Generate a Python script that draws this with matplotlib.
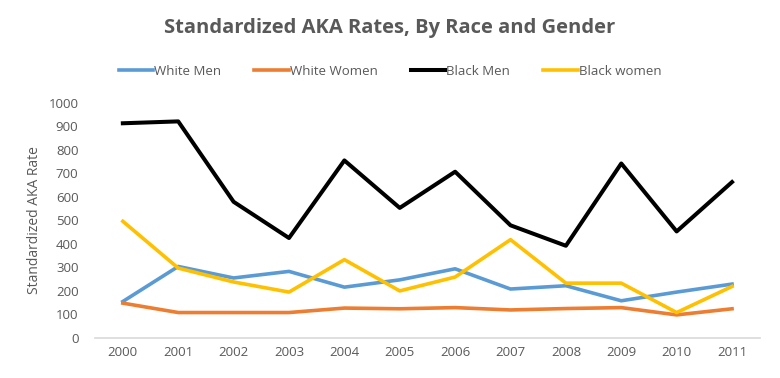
import matplotlib.pyplot as plt

plt.rcParams['font.family'] = ['Open Sans', 'DejaVu Sans']

years = ['2000', '2001', '2002', '2003', '2004', '2005', '2006', '2007', '2008', '2009', '2010', '2011']
white_men = [155, 304, 255, 283, 216, 247, 294, 208, 222, 158, 195, 229]
white_women = [148, 108, 108, 108, 127, 124, 129, 119, 125, 129, 98, 124]
black_men = [913, 921, 579, 425, 755, 553, 707, 479, 392, 742, 453, 663]
black_women = [496, 297, 238, 195, 333, 200, 259, 418, 233, 233, 108, 219]

grey = '#595959'
fig = plt.figure(figsize=(7.8, 3.78), dpi=100)
ax = fig.add_axes([0.122, 0.106, 0.852, 0.622])

x = range(len(years))
ax.plot(x, white_men, color='#5b9bd5', lw=2.6, label='White Men')
ax.plot(x, white_women, color='#ed7d31', lw=2.6, label='White Women')
ax.plot(x, black_men, color='black', lw=2.9, label='Black Men')
ax.plot(x, black_women, color='#ffc000', lw=2.6, label='Black women')

ax.set_xlim(-0.5, len(years) - 0.5)
ax.set_ylim(0, 1000)
ax.set_yticks(range(0, 1001, 100))
ax.set_xticks(list(x))
ax.set_xticklabels(years)
for s in ['top', 'right', 'left']:
    ax.spines[s].set_visible(False)
ax.spines['bottom'].set_color('#d9d9d9')
ax.spines['bottom'].set_linewidth(1.2)
ax.tick_params(axis='both', length=0, labelsize=9.5, colors=grey, pad=6)
ax.tick_params(axis='y', pad=12)
ax.set_ylabel('Standardized AKA Rate', fontsize=10, color=grey, labelpad=5)

fig.text(0.5, 0.925, 'Standardized AKA Rates, By Race and Gender', ha='center', va='center',
         fontsize=14.5, fontweight='bold', color=grey)
fig.legend(loc='center', bbox_to_anchor=(0.5, 0.812), ncol=4, frameon=False, fontsize=9.5,
           labelcolor=grey, handlelength=2.6, handletextpad=0.1, columnspacing=2.5)

fig.savefig('out.png', dpi=100)
